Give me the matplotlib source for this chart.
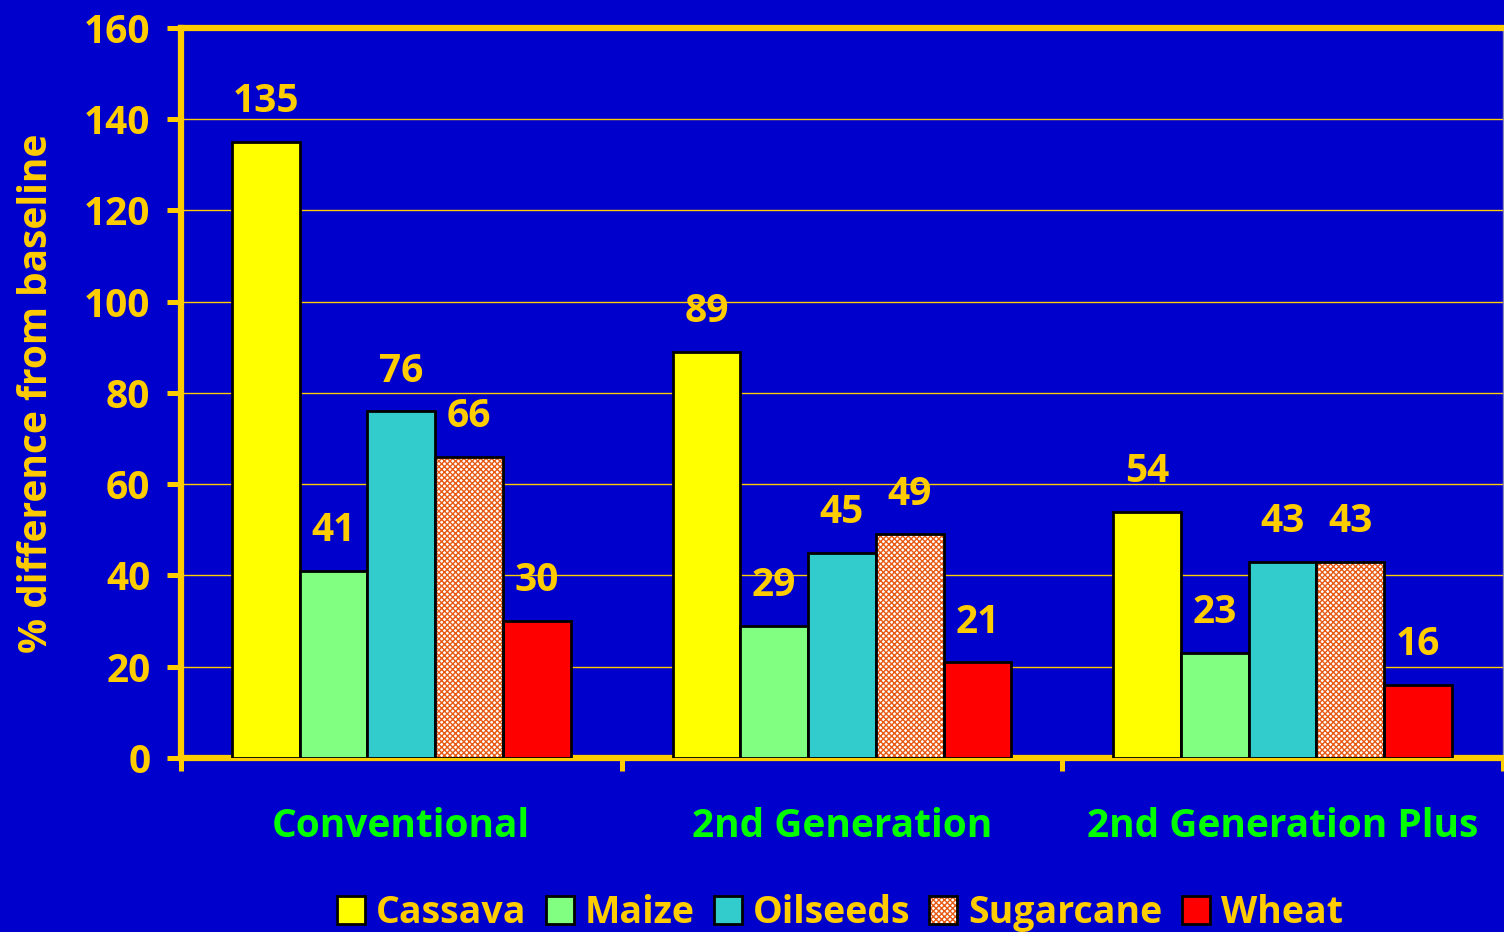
import matplotlib.pyplot as plt
import numpy as np
from matplotlib.legend_handler import HandlerTuple

# data
scenarios = ['Conventional', '2nd Generation', '2nd Generation Plus']
crops = ['Cassava', 'Maize', 'Oilseeds', 'Sugarcane', 'Wheat']
cassava = [135, 89, 54]
maize = [41, 29, 23]
oilseeds = [76, 45, 43]
sugarcane = [66, 49, 43]
wheat = [30, 21, 16]
y_ticks = [0, 20, 40, 60, 80, 100, 120, 140, 160]

BLUE = '#0000CC'
GOLD = '#FFCC00'
GREEN = '#00FF00'
crop_colors = ['#FFFF00', '#80FF80', '#33CCCC', 'white', '#FF0000']

plt.rcParams['font.family'] = ['Open Sans', 'DejaVu Sans']
plt.rcParams['font.weight'] = 'bold'
plt.rcParams['hatch.color'] = '#E85A14'
plt.rcParams['hatch.linewidth'] = 1.0

FS = 28

fig = plt.figure(figsize=(15.04, 9.32), dpi=100, facecolor=BLUE)
ax = fig.add_axes([0.1203, 0.1867, 0.8790, 0.7833])
ax.set_facecolor(BLUE)

x = np.arange(len(scenarios))
width = 0.1538
series = [cassava, maize, oilseeds, sugarcane, wheat]

handles = []
for i, (name, vals, col) in enumerate(zip(crops, series, crop_colors)):
    pos = x + (i - 2) * width
    if name == 'Sugarcane':
        # fine orange/white checker fill, black outline drawn on top
        hb = ax.bar(pos, vals, width, color='white', hatch='xxxxxx',
                    linewidth=0, zorder=3)
        ob = ax.bar(pos, vals, width, fill=False, edgecolor='black',
                    linewidth=2, zorder=4)
        handles.append((hb[0], ob[0]))
    else:
        b = ax.bar(pos, vals, width, color=col, edgecolor='black',
                   linewidth=2, zorder=3)
        handles.append(b[0])
    for p, v in zip(pos, vals):
        ax.text(p, v + 6.5, str(v), ha='center', va='baseline',
                color=GOLD, fontsize=FS, fontweight='bold', zorder=5)

ax.set_xlim(-0.5, 2.5)
ax.set_ylim(0, 160)
ax.set_yticks(y_ticks)
ax.tick_params(axis='y', colors=GOLD, labelsize=FS, length=10, width=3.6,
               pad=12, direction='out')
ax.yaxis.grid(True, color=GOLD, linewidth=1.0, zorder=0)
ax.set_axisbelow(True)

# group boundaries as ticks, names as minor tick labels
ax.set_xticks([-0.5, 0.5, 1.5, 2.5])
ax.set_xticklabels([])
ax.tick_params(axis='x', which='major', colors=GOLD, length=9, width=3.6,
               direction='out')
ax.set_xticks(x, minor=True)
ax.set_xticklabels(scenarios, minor=True)
ax.tick_params(axis='x', which='minor', length=0, pad=35, labelsize=FS,
               labelcolor=GREEN)

for side in ['left', 'bottom', 'top']:
    ax.spines[side].set_color(GOLD)
    ax.spines[side].set_linewidth(4.5)
ax.spines['right'].set_color('#8888BB')
ax.spines['right'].set_linewidth(1)

ax.set_ylabel('% difference from baseline', color=GOLD, fontsize=FS,
              fontweight='bold', labelpad=20)

leg = fig.legend(handles, crops, loc='center',
                 bbox_to_anchor=(840 / 1504, 1 - 913 / 932), ncol=5,
                 frameon=False, fontsize=FS - 1, handlelength=0.75,
                 handleheight=0.75, handletextpad=0.3, columnspacing=0.5,
                 handler_map={tuple: HandlerTuple(ndivide=1, pad=0)})
for t in leg.get_texts():
    t.set_color(GOLD)

fig.savefig('out.png', dpi=100, facecolor=BLUE)
